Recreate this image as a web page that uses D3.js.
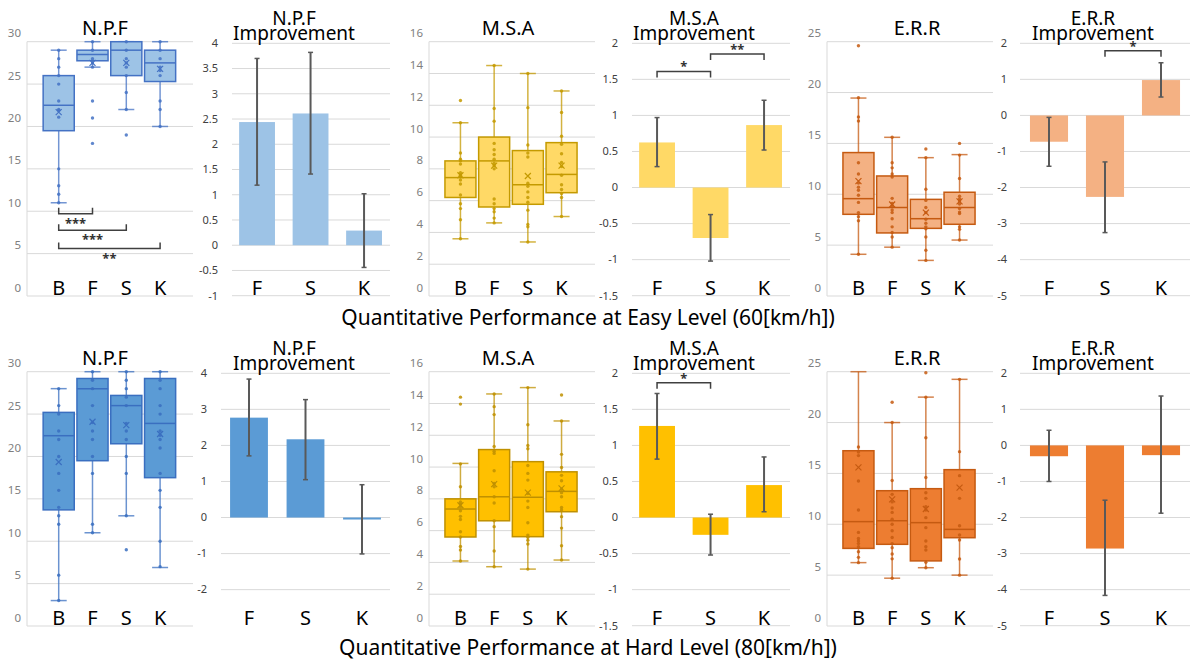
<!DOCTYPE html>
<html>
<head>
<meta charset="utf-8">
<script src="https://cdn.jsdelivr.net/npm/d3@7"></script>
<style>
body { margin: 0; background: #fff; }
text { font-family: "Noto Sans", "Open Sans", sans-serif; }
</style>
</head>
<body>
<svg id="chart" width="1192" height="661"></svg>
<script>
var boxCats = ["B", "F", "S", "K"];
var impCats = ["F", "S", "K"];

// box stats per group: [whisker low, q1, median, q3, whisker high, mean]
var npfEasyBox = [[11, 19.5, 22.5, 26, 29, 21.7], [27, 27.75, 28.5, 29, 30, 27.5], [22, 26, 29, 30, 30, 27.5], [20, 25.3, 27.5, 29, 30, 26.8]];
var npfEasyPts = [[29, 28, 27, 26, 25, 23, 22, 21.9, 21.1, 15, 13, 12, 11], [30, 29, 28, 27.5, 27, 23, 21, 18], [30, 29, 28, 27.5, 27, 26, 24, 22, 19], [30, 29, 28, 27, 26.6, 26, 23, 22, 20]];
var msaEasyBox = [[3.6, 6.2, 7.45, 8.5, 10.9, 7.6], [4.6, 5.6, 8.5, 10.0, 14.5, 8.2], [3.4, 5.77, 7.0, 9.15, 14.0, 7.55], [5.0, 6.5, 7.65, 9.65, 12.9, 8.2]];
var msaEasyPts = [[12.3, 10.9, 9.0, 8.6, 8.5, 8.3, 7.75, 7.6, 7.5, 7.3, 7.05, 6.35, 5.8, 5.5, 4.8, 3.6],
  [14.5, 11.8, 11.0, 9.6, 9.2, 8.9, 8.6, 8.35, 8.2, 8.0, 6.1, 5.8, 5.5, 5.3, 4.9, 4.6],
  [14, 11.85, 9.5, 9.0, 8.75, 7.1, 6.9, 6.55, 6.2, 5.9, 5.4, 4.5, 4.35, 3.4],
  [12.9, 11.55, 10.05, 9.55, 8.95, 8.4, 8.15, 7.6, 7.0, 6.7, 6.45, 6.2, 5.0]];
var errEasyBox = [[4.1, 8.03, 9.57, 14.1, 19.46, 11.3], [4.8, 6.2, 8.7, 11.8, 15.6, 9.0], [3.5, 6.65, 7.6, 9.5, 13.6, 8.2], [5.5, 7.05, 8.7, 10.2, 13.9, 9.3]];
var errEasyPts = [[24.6, 19.5, 17.6, 17.2, 13.1, 12.0, 11.1, 10.7, 10.4, 9.9, 9.2, 8.2, 7.8, 7.4, 4.1],
  [15.6, 13.1, 12.6, 12.0, 11.7, 9.6, 9.1, 8.85, 8.45, 8.2, 7.6, 6.8, 6.25, 5.8, 4.8],
  [14.45, 13.6, 10.5, 9.4, 8.7, 8.2, 7.55, 7.15, 6.8, 6.6, 5.8, 4.5, 3.5],
  [15.0, 13.85, 11.55, 9.8, 9.55, 9.35, 9.05, 8.6, 8.25, 8.1, 6.8, 6.55, 5.5]];

var npfHardBox = [[3, 13.7, 22.45, 25.2, 28, 19.35], [11, 19.5, 28, 29.2, 30, 24.1], [13, 21.5, 26, 27.2, 30, 23.7], [6.9, 17.5, 23.9, 29.2, 30, 22.65]];
var npfHardPts = [[28, 26, 25, 23, 22, 20, 18, 16, 14, 13, 12, 6, 3], [30, 29, 28, 26, 24, 23, 22, 20, 18, 12, 11],
  [30, 29, 28, 27, 26, 23.9, 23, 22, 20, 18, 13, 9], [30, 29, 28, 26, 25, 23, 22.5, 22, 21, 18, 16, 14, 10, 7]];
var msaHardBox = [[4.09, 5.6, 7.36, 8.0, 10.23, 7.6], [3.73, 6.62, 8.13, 11.1, 14.6, 8.93], [3.58, 5.62, 8.1, 10.34, 15.0, 8.39], [4.15, 7.19, 8.47, 9.7, 12.9, 8.66]];
var msaHardPts = [[14.4, 13.96, 10.2, 8.76, 7.8, 7.67, 7.5, 7.25, 6.9, 6.7, 5.93, 5.6, 5.0, 4.78, 4.09],
  [14.6, 13.8, 13.3, 11.3, 11.0, 10.86, 9.77, 8.97, 8.76, 8.13, 7.74, 6.62, 6.25, 4.72, 3.73],
  [15.0, 12.66, 11.36, 11.15, 10.1, 9.6, 9.18, 8.34, 7.86, 7.46, 6.5, 5.72, 5.58, 5.4, 5.16, 3.58],
  [14.53, 12.9, 10.8, 9.98, 9.48, 9.14, 8.6, 8.39, 8.13, 7.46, 7.3, 6.88, 6.16, 5.05, 4.15]];
var errHardBox = [[6.23, 7.63, 10.26, 17.23, 25, 15.6], [4.7, 8.03, 10.35, 13.3, 20, 12.45], [5.73, 6.4, 10.16, 13.5, 22.5, 11.5], [5.0, 8.68, 9.5, 15.37, 24.25, 13.6]];
var errHardPts = [[17.6, 17.1, 16.75, 14.25, 11.4, 9.2, 8.6, 8.35, 8.1, 7.8, 7.3, 6.75, 6.23],
  [22.0, 20, 14.3, 12.94, 12.2, 11.6, 11.17, 10.5, 10.0, 9.37, 8.7, 8.1, 7.7, 7.08, 6.6, 4.7],
  [24.9, 22.5, 18.5, 14.6, 13.1, 12.55, 11.73, 11.4, 10.65, 9.67, 8.35, 7.8, 7.47, 6.26, 5.73],
  [24.25, 17.14, 14.78, 12.55, 9.86, 8.94, 8.45, 6.59, 5.0]];

// improvement bars: mean, error bar high, error bar low
var npfEasyImp = [2.44, 2.61, 0.29], npfEasyHi = [3.70, 3.82, 1.02], npfEasyLo = [1.19, 1.41, -0.44];
var msaEasyImp = [0.625, -0.70, 0.866], msaEasyHi = [0.97, -0.375, 1.21], msaEasyLo = [0.29, -1.02, 0.52];
var errEasyImp = [-0.73, -2.26, 0.98], errEasyHi = [-0.055, -1.29, 1.46], errEasyLo = [-1.41, -3.25, 0.51];
var npfHardImp = [2.77, 2.17, -0.055], npfHardHi = [3.84, 3.27, 0.91], npfHardLo = [1.71, 1.05, -1.01];
var msaHardImp = [1.27, -0.24, 0.45], msaHardHi = [1.72, 0.046, 0.84], msaHardLo = [0.81, -0.52, 0.08];
var errHardImp = [-0.30, -2.86, -0.27], errHardHi = [0.42, -1.52, 1.37], errHardLo = [-1.0, -4.16, -1.88];

// significance brackets
var npfEasySig = [{a: "B", b: "F", level: 9.7, label: "***"}, {a: "B", b: "S", level: 7.75, label: "***"}, {a: "B", b: "K", level: 5.6, label: "**"}];
var msaEasySig = [{a: "F", b: "S", level: 1.61, label: "*"}, {a: "S", b: "K", level: 1.85, label: "**"}];
var errEasySig = [{a: "S", b: "K", level: 1.79, label: "*"}];
var msaHardSig = [{a: "F", b: "S", level: 1.87, label: "*"}];

var captions = ["Quantitative Performance at Easy Level (60[km/h])", "Quantitative Performance at Hard Level (80[km/h])"];

var svg = d3.select("#chart");

function fmt(t) { return String(Math.round(t * 10) / 10); }

function boxPanel(p) {
  var g = svg.append("g").attr("transform", "translate(" + p.x0 + "," + p.y0 + ")");
  var y = d3.scaleLinear().domain([0, p.max]).range([296, 41.7]);
  var x = d3.scaleBand().domain(boxCats).range(p.band).paddingInner(0.08).paddingOuter(0.04);
  var ticks = d3.range(0, p.max + 1e-6, p.step);

  g.selectAll(".grid").data(ticks).enter().append("line")
    .attr("x1", p.left).attr("x2", p.right)
    .attr("y1", function(d) { return y(d); }).attr("y2", function(d) { return y(d); })
    .attr("stroke", "#d9d9d9").attr("stroke-width", 1);
  g.append("line").attr("x1", p.left).attr("x2", p.left).attr("y1", y(p.max)).attr("y2", y(0))
    .attr("stroke", "#d9d9d9");
  g.selectAll(".tl").data(ticks).enter().append("text")
    .attr("x", p.left - 6).attr("y", function(d) { return y(d) - 8.4; }).attr("dy", "0.35em")
    .attr("text-anchor", "end").attr("font-size", 11.5).attr("fill", "#7f7f7f").text(fmt);

  var bw = x.bandwidth();
  boxCats.forEach(function(c, i) {
    var s = p.stats[i], cx = x(c) + bw / 2;
    var bg = g.append("g");
    bg.append("line").attr("x1", cx).attr("x2", cx).attr("y1", y(s[0])).attr("y2", y(s[1]))
      .attr("stroke", p.stroke).attr("stroke-width", 1.5).attr("stroke-opacity", 0.75);
    bg.append("line").attr("x1", cx).attr("x2", cx).attr("y1", y(s[3])).attr("y2", y(s[4]))
      .attr("stroke", p.stroke).attr("stroke-width", 1.5).attr("stroke-opacity", 0.75);
    [s[0], s[4]].forEach(function(v) {
      bg.append("line").attr("x1", cx - 8).attr("x2", cx + 8).attr("y1", y(v)).attr("y2", y(v))
        .attr("stroke", p.stroke).attr("stroke-width", 1.5).attr("stroke-opacity", 0.75);
    });
    bg.append("rect").attr("x", x(c)).attr("width", bw)
      .attr("y", y(s[3])).attr("height", y(s[1]) - y(s[3]))
      .attr("fill", p.fill).attr("stroke", p.stroke).attr("stroke-width", 1.5);
    bg.append("line").attr("x1", x(c)).attr("x2", x(c) + bw).attr("y1", y(s[2])).attr("y2", y(s[2]))
      .attr("stroke", p.stroke).attr("stroke-width", 1.5);
    bg.selectAll("circle").data(p.pts[i]).enter().append("circle")
      .attr("cx", cx).attr("cy", function(d) { return y(d); }).attr("r", 1.7)
      .attr("fill", p.stroke).attr("fill-opacity", 0.85);
    var m = y(s[5]);
    bg.append("path").attr("d", "M" + (cx - 3) + "," + (m - 3) + "L" + (cx + 3) + "," + (m + 3) +
        "M" + (cx + 3) + "," + (m - 3) + "L" + (cx - 3) + "," + (m + 3))
      .attr("stroke", p.stroke).attr("stroke-width", 1.2);
  });

  (p.sig || []).forEach(function(b) {
    var xa = x(b.a) + bw / 2, xb = x(b.b) + bw / 2, yl = y(b.level);
    g.append("path").attr("d", "M" + xa + "," + (yl - 6) + "V" + yl + "H" + xb + "V" + (yl - 6))
      .attr("fill", "none").attr("stroke", "#404040").attr("stroke-width", 1.5);
    g.append("text").attr("x", (xa + xb) / 2).attr("y", yl + 14).attr("text-anchor", "middle")
      .attr("font-size", 13).attr("font-weight", "bold").attr("fill", "#333").text(b.label);
  });

  g.selectAll(".cat").data(boxCats).enter().append("text")
    .attr("x", function(d) { return x(d) + bw / 2; }).attr("y", 295)
    .attr("text-anchor", "middle").attr("font-size", 20).attr("fill", "#000").text(function(d) { return d; });
  g.append("text").attr("x", p.titleX).attr("y", 35).attr("text-anchor", "middle")
    .attr("font-size", 20).attr("fill", "#000").text(p.title);
}

function barPanel(p) {
  var g = svg.append("g").attr("transform", "translate(" + p.x0 + "," + p.y0 + ")");
  var y = d3.scaleLinear().domain(p.domain).range([295.7, 43.3]);
  var x = d3.scaleBand().domain(impCats).range(p.band).paddingInner(p.pad).paddingOuter(p.pad / 2);
  var ticks = d3.range(p.tickMin, p.domain[1] + 1e-6, p.step);

  g.selectAll(".grid").data(ticks).enter().append("line")
    .attr("x1", p.grid[0]).attr("x2", p.grid[1])
    .attr("y1", function(d) { return y(d); }).attr("y2", function(d) { return y(d); })
    .attr("stroke", "#d9d9d9").attr("stroke-width", 1);
  g.selectAll(".tl").data(ticks).enter().append("text")
    .attr("x", p.labelX).attr("y", function(d) { return y(d); }).attr("dy", "0.35em")
    .attr("text-anchor", "end").attr("font-size", 11).attr("fill", "#404040").text(fmt);

  var bw = x.bandwidth();
  g.selectAll(".bar").data(impCats).enter().append("rect")
    .attr("x", function(d) { return x(d); }).attr("width", bw)
    .attr("y", function(d, i) { return y(Math.max(0, p.vals[i])); })
    .attr("height", function(d, i) { return Math.abs(y(p.vals[i]) - y(0)); })
    .attr("fill", p.fill);
  impCats.forEach(function(c, i) {
    var cx = x(c) + bw / 2;
    g.append("line").attr("x1", cx).attr("x2", cx).attr("y1", y(p.hi[i])).attr("y2", y(p.lo[i]))
      .attr("stroke", "#595959").attr("stroke-width", 2);
    [p.hi[i], p.lo[i]].forEach(function(v) {
      g.append("line").attr("x1", cx - 2.5).attr("x2", cx + 2.5).attr("y1", y(v)).attr("y2", y(v))
        .attr("stroke", "#595959").attr("stroke-width", 1.5);
    });
  });

  (p.sig || []).forEach(function(b) {
    var xa = x(b.a) + bw / 2, xb = x(b.b) + bw / 2, yl = y(b.level);
    g.append("path").attr("d", "M" + xa + "," + (yl + 6) + "V" + yl + "H" + xb + "V" + (yl + 6))
      .attr("fill", "none").attr("stroke", "#404040").attr("stroke-width", 1.5);
    g.append("text").attr("x", (xa + xb) / 2).attr("y", yl + 0).attr("text-anchor", "middle")
      .attr("font-size", 13).attr("font-weight", "bold").attr("fill", "#333").text(b.label);
  });

  g.selectAll(".cat").data(impCats).enter().append("text")
    .attr("x", function(d) { return x(d) + bw / 2; }).attr("y", 295)
    .attr("text-anchor", "middle").attr("font-size", 20).attr("fill", "#000").text(function(d) { return d; });
  g.append("text").attr("x", p.titleX).attr("y", 25).attr("text-anchor", "middle")
    .attr("font-size", 19).attr("fill", "#000").text(p.title);
  g.append("text").attr("x", p.titleX).attr("y", 40).attr("text-anchor", "middle")
    .attr("font-size", 19).attr("fill", "#000").text("Improvement");
}

var blueE = {fill: "#9dc3e6", stroke: "#4472c4"}, blueH = {fill: "#5b9bd5", stroke: "#3a6fc0"};
var goldE = {fill: "#ffd966", stroke: "#c49a00"}, goldH = {fill: "#ffc000", stroke: "#bf9000"};
var orgE = {fill: "#f4b183", stroke: "#c55a11"}, orgH = {fill: "#ed7d31", stroke: "#c55a11"};

[0, 330].forEach(function(y0, row) {
  var easy = row === 0;
  boxPanel({x0: 0, y0: y0, title: "N.P.F", titleX: 105, max: 30, step: 5, left: 27, right: 193, band: [41.8, 177],
    stats: easy ? npfEasyBox : npfHardBox, pts: easy ? npfEasyPts : npfHardPts,
    fill: (easy ? blueE : blueH).fill, stroke: (easy ? blueE : blueH).stroke, sig: easy ? npfEasySig : null});
  boxPanel({x0: 400, y0: y0, title: "M.S.A", titleX: 108, max: 16, step: 2, left: 29, right: 195, band: [43.6, 178.4],
    stats: easy ? msaEasyBox : msaHardBox, pts: easy ? msaEasyPts : msaHardPts,
    fill: (easy ? goldE : goldH).fill, stroke: (easy ? goldE : goldH).stroke});
  boxPanel({x0: 800, y0: y0, title: "E.R.R", titleX: 117, max: 25, step: 5, left: 27, right: 193, band: [41.6, 176.4],
    stats: easy ? errEasyBox : errHardBox, pts: easy ? errEasyPts : errHardPts,
    fill: (easy ? orgE : orgH).fill, stroke: (easy ? orgE : orgH).stroke});

  barPanel(easy ?
    {x0: 200, y0: y0, title: "N.P.F", titleX: 94, domain: [-1, 4], tickMin: -1, step: 0.5, grid: [32, 190], labelX: 18,
      band: [30.3, 190.8], pad: 0.33, vals: npfEasyImp, hi: npfEasyHi, lo: npfEasyLo, fill: blueE.fill} :
    {x0: 200, y0: y0, title: "N.P.F", titleX: 94, domain: [-3, 4], tickMin: -2, step: 1, grid: [21, 190], labelX: 7,
      band: [20.75, 190.25], pad: 0.33, vals: npfHardImp, hi: npfHardHi, lo: npfHardLo, fill: blueH.fill});
  barPanel({x0: 600, y0: y0, title: "M.S.A", titleX: 94, domain: [-1.5, 2], tickMin: -1.5, step: 0.5, grid: [32, 190], labelX: 18,
    band: [30.3, 190.8], pad: 0.33, vals: easy ? msaEasyImp : msaHardImp, hi: easy ? msaEasyHi : msaHardHi,
    lo: easy ? msaEasyLo : msaHardLo, fill: (easy ? goldE : goldH).fill, sig: easy ? msaEasySig : msaHardSig});
  barPanel({x0: 1000, y0: y0, title: "E.R.R", titleX: 93, domain: [-5, 2], tickMin: -5, step: 1, grid: [20, 190], labelX: 7,
    band: [21, 189], pad: 0.32, vals: easy ? errEasyImp : errHardImp, hi: easy ? errEasyHi : errHardHi,
    lo: easy ? errEasyLo : errHardLo, fill: (easy ? orgE : orgH).fill, sig: easy ? errEasySig : null});

  svg.append("text").attr("x", 588).attr("y", y0 + 325).attr("text-anchor", "middle")
    .attr("font-size", 21).attr("fill", "#000").text(captions[row]);
});
</script>
</body>
</html>
